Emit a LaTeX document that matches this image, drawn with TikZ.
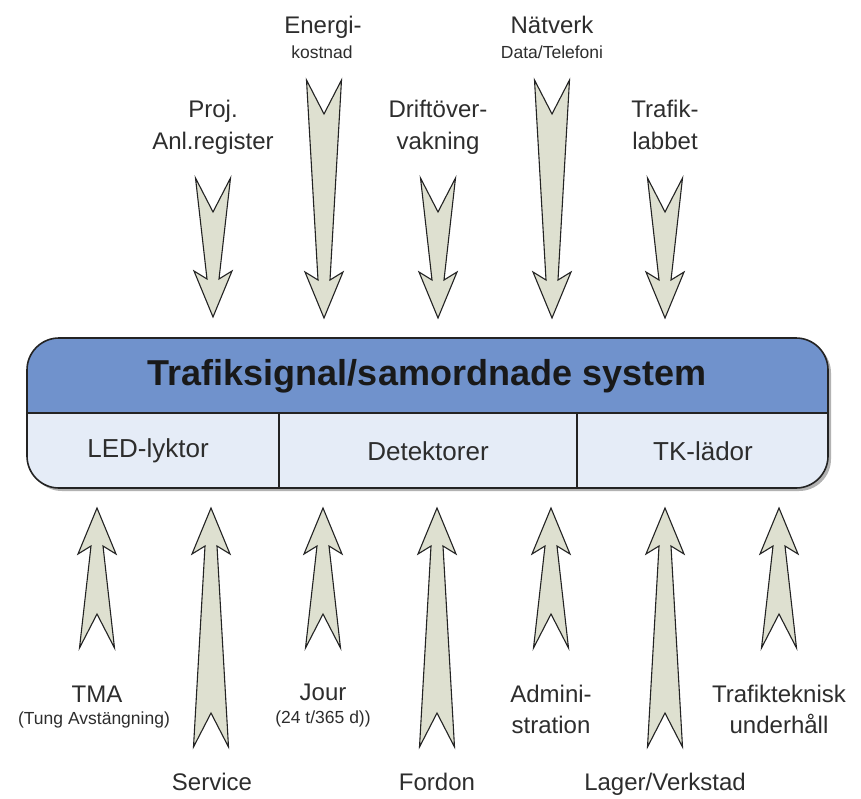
\documentclass[tikz,border=0pt]{standalone}
\usepackage{fontspec}
\setmainfont{Liberation Sans}
\definecolor{arrowfill}{RGB}{222,224,208}
\definecolor{headblue}{RGB}{112,146,204}
\definecolor{cellfill}{RGB}{229,236,247}
\definecolor{txt}{RGB}{45,45,45}
\definecolor{edge}{RGB}{35,35,35}
\newcommand\blockarrow[4]{% x, ytail, ytip, d (+1 down, -1 up)
  \filldraw[arr] ({#1-17.5},#2) -- (#1,{#2+#4*34}) -- ({#1+17.5},#2)
    -- ({#1+6},{#3-#4*38}) -- ({#1+19},{#3-#4*46}) -- (#1,#3)
    -- ({#1-19},{#3-#4*46}) -- ({#1-6},{#3-#4*38}) -- cycle;}
\begin{document}
\begin{tikzpicture}[x=1pt,y=-1pt,
  arr/.style={draw=edge, fill=arrowfill, line width=1.1pt, line join=miter},
  lbl/.style={font=\fontsize{24}{28}\selectfont, text=txt, inner sep=0pt, anchor=base},
  sub/.style={font=\fontsize{17.5}{20}\selectfont, text=txt, inner sep=0pt, anchor=base},
  cell/.style={font=\fontsize{26}{30}\selectfont, text=txt, inner sep=0pt},
  ttl/.style={font=\fontsize{36}{40}\selectfont\bfseries, text=black!90, inner sep=0pt}]
\useasboundingbox (0,0) rectangle (861,798);
% ---- top arrows (pointing down)
\blockarrow{213}{178}{317}{1}
\blockarrow{324}{80}{318}{1}
\blockarrow{438}{178}{318}{1}
\blockarrow{552}{80}{318}{1}
\blockarrow{665}{178}{318}{1}
% ---- bottom arrows (pointing up)
\blockarrow{97}{648}{508}{-1}
\blockarrow{211}{747}{508}{-1}
\blockarrow{323}{648}{508}{-1}
\blockarrow{437}{747}{508}{-1}
\blockarrow{551}{648}{508}{-1}
\blockarrow{665}{747}{508}{-1}
\blockarrow{779}{648}{508}{-1}
% ---- main box
\fill[black!30, rounded corners=32pt] (30,341) rectangle (831,491);
\begin{scope}
  \clip[rounded corners=32pt] (27,338) rectangle (828,488);
  \fill[headblue] (27,338) rectangle (828,413);
  \fill[cellfill] (27,413) rectangle (828,488);
\end{scope}
\coordinate (hl) at (27,413);
\coordinate (hr) at (828,413);
\coordinate (d1t) at (279,413);
\coordinate (d1b) at (279,488);
\coordinate (d2t) at (577,413);
\coordinate (d2b) at (577,488);
\draw[edge, line width=1.1pt] (hl) -- (hr);
\draw[edge, line width=1.1pt] (d1t) -- (d1b);
\draw[edge, line width=1.1pt] (d2t) -- (d2b);
\draw[edge, line width=1.6pt, rounded corners=32pt] (27,338) rectangle (828,488);
\node[ttl] (title) at (427,376) {Trafiksignal/samordnade system};
\node[cell] (led) at (148,451) {LED-lyktor};
\node[cell] (det) at (428,451) {Detektorer};
\node[cell] (tk) at (703,451) {TK-lädor};
% ---- top labels
\node[lbl] (proj1) at (213,117) {Proj.};
\node[lbl] (proj2) at (213,149) {Anl.register};
\node[lbl] (en1) at (323,33) {Energi-};
\node[sub] (en2) at (322,58) {kostnad};
\node[lbl] (dr1) at (438,117) {Driftöver-};
\node[lbl] (dr2) at (438,149) {vakning};
\node[lbl] (nv1) at (552,33) {Nätverk};
\node[sub] (nv2) at (552,58) {Data/Telefoni};
\node[lbl] (tl1) at (665,117) {Trafik-};
\node[lbl] (tl2) at (665,149) {labbet};
% ---- bottom labels
\node[lbl] (tma1) at (97,702) {TMA};
\node[sub] (tma2) at (94,724) {(Tung Avstängning)};
\node[lbl] (serv) at (212,790) {Service};
\node[lbl] (jour1) at (323,700) {Jour};
\node[sub] (jour2) at (323,723) {(24 t/365 d))};
\node[lbl] (ford) at (437,790) {Fordon};
\node[lbl] (adm1) at (551,702) {Admini-};
\node[lbl] (adm2) at (551,733) {stration};
\node[lbl] (lag) at (665,790) {Lager/Verkstad};
\node[lbl] (tt1) at (779,702) {Trafikteknisk};
\node[lbl] (tt2) at (779,733) {underhåll};
\end{tikzpicture}
\end{document}
